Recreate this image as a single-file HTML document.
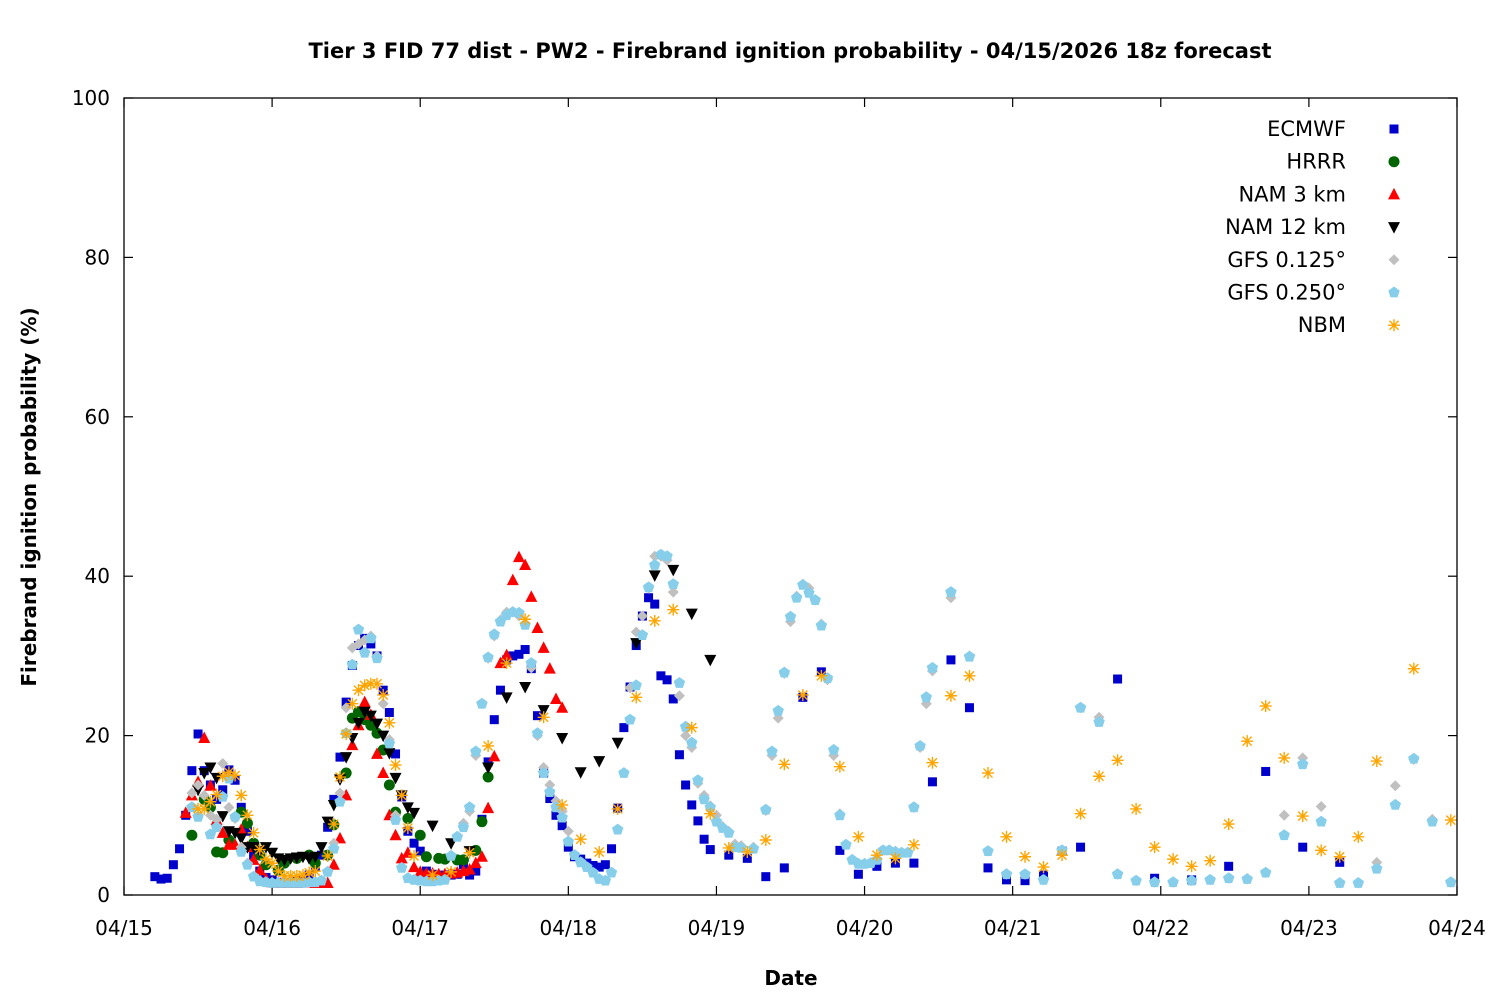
<!DOCTYPE html>
<html><head><meta charset="utf-8"><style>
html,body{margin:0;padding:0;background:#fff;}
svg{display:block;font-family:"DejaVu Sans","Liberation Sans",sans-serif;}
</style></head><body>
<svg id="chart" width="1500" height="1000" viewBox="0 0 1500 1000" xmlns="http://www.w3.org/2000/svg">
<rect x="0" y="0" width="1500" height="1000" fill="#fff"/>
<text x="790" y="58" text-anchor="middle" font-size="21" font-weight="bold" fill="#000">Tier 3 FID 77 dist - PW2 - Firebrand ignition probability - 04/15/2026 18z forecast</text>
<text transform="translate(36,497) rotate(-90)" text-anchor="middle" font-size="20" font-weight="bold" fill="#000">Firebrand ignition probability (%)</text>
<text x="791" y="985" text-anchor="middle" font-size="20" font-weight="bold" fill="#000">Date</text>
<g id="axes"></g>
<g id="marks"></g>
<g id="legend"></g>
<rect x="124" y="98" width="1333" height="797" fill="none" stroke="#000" stroke-width="1.3"/>
</svg>
<script>
const xTickLabels = ["04/15","04/16","04/17","04/18","04/19","04/20","04/21","04/22","04/23","04/24"];
const yTickValues = [0,20,40,60,80,100];
const seriesNames = ["ECMWF","HRRR","NAM 3 km","NAM 12 km","GFS 0.125°","GFS 0.250°","NBM"];

const ecmwfHours = [5,6,7,8,9,10,11,12,13,14,15,16,17,18,19,20,21,22,23,24,25,26,27,28,29,30,31,32,33,34,35,36,37,38,39,40,41,42,43,44,45,46,47,48,49,50,51,52,53,54,55,56,57,58,59,60,61,62,63,64,65,66,67,68,69,70,71,72,73,74,75,76,77,78,79,80,81,82,83,84,85,86,87,88,89,90,91,92,93,94,95,98,101,104,107,110,113,116,119,122,125,128,131,134,137,140,143,146,149,152,155,161,167,173,179,185,191,197];
const ecmwfValues = [2.3,2.0,2.1,3.8,5.8,10,15.6,20.2,15.6,13.8,12,13.2,15.7,14.4,11,8,5,3,2.2,1.9,1.6,1.5,1.6,1.7,1.8,2.5,3.5,5,8.5,12,17.3,24.2,28.8,31.3,32.2,31.5,30,25.7,22.9,17.7,12.3,8,6.5,5.5,3,2.6,2.4,2.5,2.5,2.6,3.8,2.5,3,9.5,16.7,22,25.7,29.5,30,30.2,30.8,28.4,22.5,15.3,12.1,10,8.7,6,4.8,4.5,4,3.7,3.5,3.8,5.8,10.9,21,26.1,31.3,35,37.3,36.5,27.5,27,24.6,17.6,13.8,11.3,9.3,7,5.7,5,4.6,2.3,3.4,24.8,28,5.6,2.6,3.6,4,4,14.2,29.5,23.5,3.4,1.9,1.8,2.5,5.5,6,27.1,2.1,1.9,3.6,15.5,6,4.1];

const hrrrHours = [11,13,14,15,16,17,19,20,21,22,23,25,26,28,30,31,33,34,36,37,38,39,40,41,42,43,44,46,48,49,51,52,54,55,57,58,59];
const hrrrValues = [7.5,12,11,5.4,5.3,6.9,10.4,9,6.5,5,3.8,3.1,4,4.6,5,4,5,8.8,15.3,22.2,23,22,21.3,20.3,18.2,13.8,10.4,9.6,7.5,4.8,4.6,4.5,4.4,4.4,5.6,9.2,14.8];

const nam3Hours = [10,11,12,13,14,15,16,17,18,19,20,21,22,23,24,25,26,27,28,29,30,31,32,33,34,35,36,37,38,39,40,41,42,43,44,45,46,47,48,49,50,51,52,53,54,55,56,57,58,59,60,61,62,63,64,65,66,67,68,69,70,71];
const nam3Values = [10.3,12.5,14.2,19.7,13.7,9.4,7.8,6.3,6.3,8.2,6,4.4,3.1,2,1.6,1.5,1.5,1.5,1.5,1.6,1.6,1.5,1.5,1.5,3.8,7.1,12.5,18.8,21.3,24.2,22.6,17.7,15.3,10,7.5,4.6,5.3,3.5,2.9,2.7,2.7,2.6,2.6,2.7,2.8,3,3.2,4,4.8,10.9,17.4,29.1,30.1,39.5,42.4,41.4,37.4,33.5,31,28.4,24.6,23.5];

const nam12Hours = [12,13,14,15,16,17,18,19,20,21,22,23,24,25,26,27,28,29,30,31,32,33,34,35,36,37,38,39,40,41,42,43,44,45,46,47,50,53,56,59,62,65,68,71,74,77,80,83,86,89,92,95];
const nam12Values = [13.2,15.3,16,14.7,9.9,8,7.8,7.1,6,6,5.5,6,5.3,4.6,4.4,4.6,4.7,4.8,4.6,4.8,6,9.2,11.3,14.5,17.3,19.7,21.6,23,22.5,21.5,20,17.8,14.7,12.5,11,10.3,8.7,6.5,5.5,16,24.8,26.1,23.2,19.7,15.4,16.8,19.1,31.6,40.1,40.8,35.3,29.5];

const gfs250Hours = [11,12,14,15,16,17,18,19,20,21,22,23,24,25,26,27,28,29,30,31,32,33,34,35,36,37,38,39,40,41,43,44,45,46,47,48,49,50,51,52,53,54,55,56,57,58,59,60,61,62,63,64,65,66,67,68,69,70,71,72,73,74,75,76,77,78,79,80,81,82,83,84,85,86,87,88,89,90,91,92,93,94,95,96,97,98,99,100,102,104,105,106,107,108,109,110,111,112,113,114,115,116,117,118,119,120,121,122,123,124,125,126,127,128,129,130,131,134,137,140,143,146,149,152,155,158,161,164,167,170,173,176,179,182,185,188,191,194,197,200,203,206,209,212,215];
const gfs250Values = [11,9.8,7.6,8.5,12.3,14.6,9.8,5.4,3.8,2.3,1.7,1.6,1.5,1.5,1.5,1.5,1.5,1.5,1.6,1.6,1.8,2.9,5.8,11.7,20.3,28.9,33.3,30.4,32.2,29.7,19,9.4,3.4,2.1,1.9,1.8,1.7,1.7,1.8,1.9,4.9,7.3,8.5,11,18,24,29.8,32.7,34.3,35.1,35.5,35.4,33.9,29.1,20.3,15.3,12.9,11,9.7,6.7,5,4.1,3.5,2.8,2,1.8,2.8,8.2,15.3,22,26.3,32.6,38.6,41.4,42.7,42.5,39,26.6,21.1,19.1,14.4,12,11,9.2,8.4,7.8,6,5.9,5.8,10.7,18,23.1,27.9,34.9,37.3,38.9,37.9,37,33.8,27.2,18.2,10,6.3,4.4,3.9,3.9,4,4.4,5.6,5.6,5.4,5.3,5.3,11,18.7,24.8,28.5,38,29.9,5.5,2.6,2.6,1.9,5.6,23.5,21.7,2.6,1.8,1.6,1.6,1.8,1.9,2.1,2,2.8,7.5,16.4,9.2,1.5,1.5,3.3,11.3,17.1,9.2,1.6];

const gfs125Hours = [11,12,13,14,15,16,17,18,19,20,33,34,35,36,37,38,39,40,41,42,43,44,55,56,57,58,59,60,61,62,63,64,65,66,67,68,69,70,71,72,82,83,84,85,86,87,88,89,90,91,92,93,94,95,96,97,98,99,100,102,104,105,106,107,108,109,110,111,112,113,114,115,116,122,125,128,129,130,131,134,137,140,143,146,149,152,155,158,161,164,167,170,173,176,179,182,185,188,191,194,197,200,203,206,209,212,215];
const gfs125Values = [12.8,13.8,12.5,10,9.5,16.5,11,9.6,6,4,3,6.5,12.8,23.5,31,31.5,32,32.5,30,24,19.5,10,9,10.5,17.5,24,29.7,32.5,34.5,35.5,35.5,35,34,28.5,20,16,13.8,11.8,10.5,8,26,33,35,38.5,42.5,42.5,42,38,25,20,18.5,14,12.5,11.2,10,8.6,8,6.4,6.2,6,10.6,17.5,22.2,27.8,34.3,37.5,39,38.5,37,34,27,17.5,10.2,4.5,5.5,11,18.5,24,28.1,37.3,30,5.5,2.6,2.6,1.9,5.6,23.5,22.3,2.6,1.8,1.6,1.6,1.8,1.9,2.1,2,2.8,10,17.2,11.1,1.5,1.5,4.1,13.7,17,9.5,1.6];

const nbmHours = [12,13,14,15,16,17,18,19,20,21,22,23,24,25,26,27,28,29,30,31,33,34,35,36,37,38,39,40,41,42,43,44,45,46,47,50,53,56,59,62,65,68,71,74,77,80,83,86,89,92,95,98,101,104,107,110,113,116,119,122,125,128,131,134,137,140,143,146,149,152,155,158,161,164,167,170,173,176,179,182,185,188,191,194,197,200,203,209,215];
const nbmValues = [10.8,10.8,11.7,12.6,14.9,15.4,15,12.5,10,7.8,5.7,4.5,4,3,2.4,2.4,2.4,2.5,2.8,3,4.9,8.9,14.8,20.2,24,25.7,26.3,26.5,26.5,25.1,21.6,16.3,12.5,8.4,4.9,2.5,2.9,5.3,18.7,29.1,34.6,22.3,11.3,7,5.4,10.8,24.8,34.4,35.8,21,10.2,5.9,5.4,6.9,16.4,25.1,27.5,16.1,7.3,5,4.6,6.3,16.6,25,27.5,15.3,7.3,4.8,3.5,5,10.2,14.9,16.9,10.8,6,4.5,3.6,4.3,8.9,19.3,23.7,17.2,9.9,5.6,4.8,7.3,16.8,28.4,9.4];

const NS = "http://www.w3.org/2000/svg";
const X0 = 124, X1 = 1457, Y0 = 895, Y1 = 98;
function xScale(h){ return X0 + h * (X1 - X0) / (9 * 24); }
function yScale(v){ return Y0 - v * (Y0 - Y1) / 100; }
function mk(tag, attrs, parent){ const e = document.createElementNS(NS, tag); for (const k in attrs) e.setAttribute(k, attrs[k]); parent.appendChild(e); return e; }

const axes = document.getElementById('axes');
yTickValues.forEach(v => {
  const y = yScale(v);
  const t1 = mk('line', {x1: X0, x2: X0 + 9, y1: y, y2: y, stroke: '#000', 'stroke-width': 1.2}, axes);
  
  
  const t2 = mk('line', {x1: X1 - 9, x2: X1, y1: y, y2: y, stroke: '#000', 'stroke-width': 1.2}, axes);
  
  
  const lb = mk('text', {x: X0 - 14, y: y + 7, 'text-anchor': 'end', 'font-size': 20, fill: '#000'}, axes);
  lb.textContent = v;
  
  
});
xTickLabels.forEach((s, i) => {
  const x = xScale(i * 24);
  const t1 = mk('line', {x1: x, x2: x, y1: Y0, y2: Y0 - 9, stroke: '#000', 'stroke-width': 1.2}, axes);
  
  
  const t2 = mk('line', {x1: x, x2: x, y1: Y1, y2: Y1 + 9, stroke: '#000', 'stroke-width': 1.2}, axes);
  
  
  const lb = mk('text', {x: x, y: 935, 'text-anchor': 'middle', 'font-size': 20, fill: '#000'}, axes);
  lb.textContent = s;
  
  
});

function marker(kind, x, y, parent){
  let e;
  if (kind === 0) e = mk('rect', {x: x - 4.5, y: y - 4.5, width: 9, height: 9, fill: '#0000cc'}, parent);
  else if (kind === 1) e = mk('circle', {cx: x, cy: y, r: 5.5, fill: '#006400'}, parent);
  else if (kind === 2) e = mk('polygon', {points: `${x},${y-6.5} ${x+6},${y+5} ${x-6},${y+5}`, fill: '#ff0000'}, parent);
  else if (kind === 3) e = mk('polygon', {points: `${x},${y+6.5} ${x+6},${y-5} ${x-6},${y-5}`, fill: '#000'}, parent);
  else if (kind === 4) e = mk('polygon', {points: `${x},${y-5.5} ${x+5.5},${y} ${x},${y+5.5} ${x-5.5},${y}`, fill: '#c0c0c0'}, parent);
  else if (kind === 5) {
    let p = [];
    for (let k = 0; k < 5; k++){ const a = -Math.PI/2 + k*2*Math.PI/5; p.push((x + 6*Math.cos(a)).toFixed(1) + ',' + (y + 6*Math.sin(a)).toFixed(1)); }
    e = mk('polygon', {points: p.join(' '), fill: '#87ceeb'}, parent);
  } else {
    e = mk('path', {d: `M${x-6},${y}H${x+6}M${x},${y-6}V${y+6}M${x-4.5},${y-4.5}L${x+4.5},${y+4.5}M${x-4.5},${y+4.5}L${x+4.5},${y-4.5}`, stroke: '#ffa500', 'stroke-width': 1.4, fill: 'none'}, parent);
  }
  return e;
}

const allHours = [ecmwfHours, hrrrHours, nam3Hours, nam12Hours, gfs125Hours, gfs250Hours, nbmHours];
const allValues = [ecmwfValues, hrrrValues, nam3Values, nam12Values, gfs125Values, gfs250Values, nbmValues];
const marks = document.getElementById('marks');
const seriesKeys = ['ecmwf','hrrr','nam-3km','nam-12km','gfs-0125','gfs-0250','nbm'];
allHours.forEach((hs, si) => {
  const g = mk('g', {}, marks);
  
  
  hs.forEach((h, i) => {
    const m = marker(si, xScale(h), yScale(allValues[si][i]), g);
    
    
  });
});

const legend = document.getElementById('legend');
seriesNames.forEach((n, i) => {
  const y = 129 + i * 32.7;
  const g = mk('g', {}, legend);
  
  
  const t = mk('text', {x: 1346, y: y + 7, 'text-anchor': 'end', 'font-size': 21, fill: '#000'}, g);
  t.textContent = n;
  
  
  const m = marker(i, 1394, y, g);
  
  
});
</script>
</body></html>
